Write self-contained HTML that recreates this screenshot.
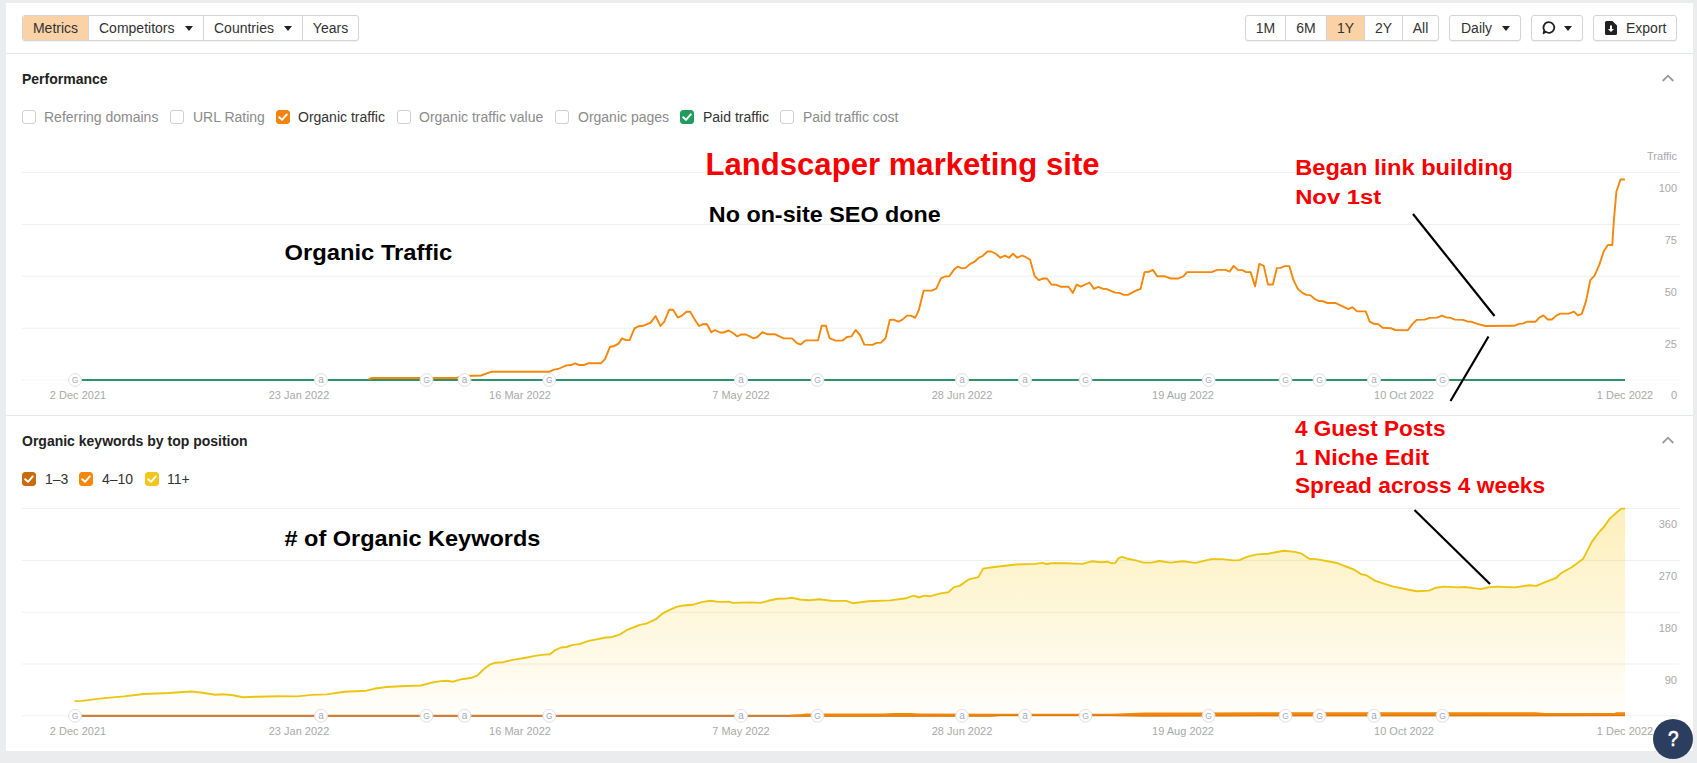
<!DOCTYPE html>
<html><head><meta charset="utf-8"><title>Overview</title>
<style>
*{box-sizing:border-box;margin:0;padding:0}
html,body{width:1697px;height:763px;overflow:hidden;background:#ebecee;font-family:"Liberation Sans",sans-serif;font-size:14px;color:#333}
.card{position:absolute;left:6px;top:3px;width:1687px;height:748px;background:#fff}
.hr{position:absolute;left:6px;width:1687px;height:1px;background:#e6e7ea}
.chart{position:absolute;left:0;top:0}
.gl{stroke:#efeff0;stroke-width:1}
.ax{font-family:"Liberation Sans",sans-serif;font-size:11px;fill:#a9a9a9}
.mk{font-family:"Liberation Sans",sans-serif;font-size:8.5px;fill:#a4abb8;text-anchor:middle}
.ma{font-size:10px}
.bl{stroke:#000;stroke-width:2.2}
.bg{position:absolute;top:15px;height:26px;display:flex;border:1px solid #d3d4d7;border-radius:3px;background:#fff;overflow:hidden;box-shadow:0 1px 1px rgba(0,0,0,.06)}
.bg>div{height:24px;line-height:24px;border-left:1px solid #d3d4d7;text-align:center;white-space:nowrap;color:#333;position:relative}
.bg>div:first-child{border-left:0}
.bg>div.act{background:#fbd2a6}
.car{position:absolute;width:0;height:0;border-left:4px solid transparent;border-right:4px solid transparent;border-top:5px solid #222;top:10px}
.h{position:absolute;font-weight:bold;font-size:14px;color:#222;white-space:nowrap}
.cb{position:absolute;width:14px;height:14px;border:1px solid #cfd0d3;border-radius:3px;background:#fff}
.cb.on svg{position:absolute;left:-1px;top:-1px}
.lb{position:absolute;color:#8b8b8b;white-space:nowrap;line-height:16px}
.lb.lon{color:#333}
.an{font-family:"Liberation Sans",sans-serif;font-weight:bold}
.red{color:#f80000}
.blk{color:#000}
.chev{position:absolute}
.help{position:absolute;left:1653px;top:719px;width:40px;height:40px;border-radius:50%;background:#2c3e5f;color:#fff;font-weight:normal;-webkit-text-stroke:0.7px #fff;font-size:22.5px;line-height:40.500px;text-align:center}
</style></head><body>
<div class="card"></div>
<div class="hr" style="top:53px"></div>
<div class="hr" style="top:415px"></div>

<div class="bg" style="left:22px;width:337px">
<div class="act" style="width:65px">Metrics</div>
<div style="width:115px;text-align:left;padding-left:10px">Competitors<i class="car" style="left:96px"></i></div>
<div style="width:99px;text-align:left;padding-left:10px">Countries<i class="car" style="left:80px"></i></div>
<div style="width:56px">Years</div>
</div>

<div class="bg" style="left:1245px;width:194px">
<div style="width:39px">1M</div><div style="width:41px">6M</div><div class="act" style="width:38px">1Y</div><div style="width:38px">2Y</div><div style="width:36px">All</div>
</div>
<div class="bg" style="left:1449px;width:72px"><div style="width:70px;text-align:left;padding-left:11px">Daily<i class="car" style="left:52px"></i></div></div>
<div class="bg" style="left:1531px;width:52px"><div style="width:50px">
<svg width="16" height="16" viewBox="0 0 16 16" style="position:absolute;left:9px;top:4px"><path d="M8 2.2a5.3 5.3 0 1 1-3.3 9.45L2.6 13.2l.7-2.9A5.3 5.3 0 0 1 8 2.2z" fill="none" stroke="#222" stroke-width="1.8" stroke-linejoin="round"/></svg>
<i class="car" style="left:32px"></i></div></div>
<div class="bg" style="left:1593px;width:84px"><div style="width:82px;text-align:left;padding-left:32px">
<svg width="12" height="14" viewBox="0 0 12 14" style="position:absolute;left:11px;top:5px"><path d="M1.5 0h6L12 4.5V12.5a1.5 1.5 0 0 1-1.5 1.5h-9A1.5 1.5 0 0 1 0 12.500V1.5A1.500 1.500 0 0 1 1.500 0z" fill="#222"/><path d="M5 4.500h2v3.500h2L6 11 3 8h2z" fill="#fff"/></svg>
Export</div></div>

<div class="h" style="left:22px;top:71px">Performance</div>
<svg class="chev" style="left:1662px;top:74px" width="12" height="9" viewBox="0 0 12 9"><path d="M0.700 7 L6 1.700 L11.300 7" fill="none" stroke="#9a9a9a" stroke-width="1.8"/></svg>
<span class="cb" style="left:22px;top:110px"></span><span class="lb" style="left:44px;top:109px">Referring domains</span>
<span class="cb" style="left:170px;top:110px"></span><span class="lb" style="left:193px;top:109px">URL Rating</span>
<span class="cb on" style="left:276px;top:110px;background:#f5820a;border-color:#f5820a"><svg width="14" height="14" viewBox="0 0 14 14"><path d="M3.2 7.2 L6 9.8 L10.8 4.4" fill="none" stroke="#fff" stroke-width="2" stroke-linecap="round" stroke-linejoin="round"/></svg></span><span class="lb lon" style="left:298px;top:109px">Organic traffic</span>
<span class="cb" style="left:397px;top:110px"></span><span class="lb" style="left:419px;top:109px">Organic traffic value</span>
<span class="cb" style="left:555px;top:110px"></span><span class="lb" style="left:578px;top:109px">Organic pages</span>
<span class="cb on" style="left:680px;top:110px;background:#1f9d5c;border-color:#1f9d5c"><svg width="14" height="14" viewBox="0 0 14 14"><path d="M3.2 7.2 L6 9.8 L10.8 4.4" fill="none" stroke="#fff" stroke-width="2" stroke-linecap="round" stroke-linejoin="round"/></svg></span><span class="lb lon" style="left:703px;top:109px">Paid traffic</span>
<span class="cb" style="left:780px;top:110px"></span><span class="lb" style="left:803px;top:109px">Paid traffic cost</span>

<div class="h" style="left:22px;top:433px">Organic keywords by top position</div>
<svg class="chev" style="left:1662px;top:436px" width="12" height="9" viewBox="0 0 12 9"><path d="M0.700 7 L6 1.700 L11.300 7" fill="none" stroke="#9a9a9a" stroke-width="1.8"/></svg>
<span class="cb on" style="left:22px;top:472px;background:#c96a0c;border-color:#c96a0c"><svg width="14" height="14" viewBox="0 0 14 14"><path d="M3.2 7.2 L6 9.8 L10.8 4.4" fill="none" stroke="#fff" stroke-width="2" stroke-linecap="round" stroke-linejoin="round"/></svg></span><span class="lb lon" style="left:45px;top:471px">1–3</span>
<span class="cb on" style="left:79px;top:472px;background:#f5870a;border-color:#f5870a"><svg width="14" height="14" viewBox="0 0 14 14"><path d="M3.2 7.2 L6 9.8 L10.8 4.4" fill="none" stroke="#fff" stroke-width="2" stroke-linecap="round" stroke-linejoin="round"/></svg></span><span class="lb lon" style="left:102px;top:471px">4–10</span>
<span class="cb on" style="left:145px;top:472px;background:#f5c518;border-color:#f5c518"><svg width="14" height="14" viewBox="0 0 14 14"><path d="M3.2 7.2 L6 9.8 L10.8 4.4" fill="none" stroke="#fff" stroke-width="2" stroke-linecap="round" stroke-linejoin="round"/></svg></span><span class="lb lon" style="left:167px;top:471px">11+</span>

<svg class="chart" width="1697" height="763" viewBox="0 0 1697 763">
<defs><linearGradient id="yg" x1="0" y1="508" x2="0" y2="716" gradientUnits="userSpaceOnUse"><stop offset="0" stop-color="#f7cb1c" stop-opacity="0.30"/><stop offset="1" stop-color="#f7cb1c" stop-opacity="0.02"/></linearGradient></defs>
<line x1="22" x2="1679.5" y1="172.6" y2="172.6" class="gl"/><line x1="22" x2="1679.5" y1="224.45" y2="224.45" class="gl"/><line x1="22" x2="1679.5" y1="276.3" y2="276.3" class="gl"/><line x1="22" x2="1679.5" y1="328.2" y2="328.2" class="gl"/><line x1="22" x2="1679.5" y1="380.0" y2="380.0" class="gl"/><text x="1677" y="160" class="ax" text-anchor="end">Traffic</text><text x="1677" y="192" class="ax" text-anchor="end">100</text><text x="1677" y="244" class="ax" text-anchor="end">75</text><text x="1677" y="296" class="ax" text-anchor="end">50</text><text x="1677" y="348" class="ax" text-anchor="end">25</text><text x="1677" y="399" class="ax" text-anchor="end">0</text>
<line x1="75" x2="1625" y1="380" y2="380" stroke="#2d9469" stroke-width="2"/>
<polyline points="368.5,379.3 372.0,378.0 456.0,378.0 466.0,376.0 481.0,375.5 491.0,371.8 549.0,371.8 554.0,369.6 558.0,369.0 566.5,365.4 571.4,365.0 575.0,363.4 579.0,365.0 584.0,365.0 588.8,363.2 601.0,363.2 605.0,359.2 610.0,346.8 613.5,346.3 618.5,343.6 622.0,338.4 626.0,340.0 629.6,340.1 634.5,328.3 638.3,326.3 643.2,325.8 650.6,322.6 655.6,316.1 660.5,326.0 664.3,321.6 669.2,309.7 673.0,309.7 677.9,317.6 681.6,315.9 686.5,311.7 690.2,311.7 694.0,318.4 699.0,326.0 702.6,324.3 706.8,324.0 711.3,332.2 715.0,330.2 720.0,332.5 723.7,332.5 728.6,330.5 732.3,332.5 737.3,336.4 741.0,334.5 746.0,334.5 753.6,338.4 757.3,337.0 762.3,332.2 767.2,334.2 774.7,334.2 783.3,338.2 792.0,338.4 797.0,343.1 800.6,344.6 805.6,340.4 818.0,340.4 821.7,325.8 825.9,325.8 829.6,338.2 835.3,340.6 842.7,340.6 847.0,337.0 851.4,336.4 855.6,330.0 860.0,335.0 864.3,344.6 872.4,344.9 876.6,342.9 881.0,342.6 885.5,338.2 889.8,319.9 893.5,319.6 898.4,321.6 902.1,319.9 907.1,315.6 910.8,315.6 915.2,317.9 918.7,310.4 923.7,290.6 931.8,290.6 936.3,288.7 941.0,278.3 945.0,276.5 949.2,276.3 954.1,269.6 957.8,266.6 962.0,268.4 965.7,267.9 970.2,263.9 973.9,262.2 978.9,257.7 982.6,256.0 987.5,251.5 991.2,251.5 996.2,254.0 1000.4,257.7 1004.9,255.7 1009.0,257.7 1013.0,253.8 1017.2,257.7 1022.2,255.5 1025.9,257.2 1030.1,259.7 1034.6,276.0 1038.8,280.2 1043.2,278.5 1046.9,278.5 1051.4,284.5 1055.6,284.7 1060.5,286.7 1068.5,286.7 1072.9,292.9 1076.6,284.7 1080.8,286.7 1089.5,282.5 1094.0,288.9 1098.2,286.9 1102.6,288.7 1106.3,288.9 1115.0,292.6 1119.5,292.9 1123.7,294.9 1127.9,294.9 1136.0,290.6 1140.5,288.9 1144.6,272.1 1148.8,271.8 1152.9,269.9 1157.2,276.2 1164.8,276.3 1171.0,278.5 1178.4,278.5 1183.3,276.3 1187.0,272.1 1211.8,272.1 1217.2,269.9 1225.4,269.9 1229.6,271.6 1233.6,265.9 1237.8,269.9 1242.2,270.1 1246.4,272.1 1250.6,272.1 1255.1,286.4 1259.3,263.9 1263.8,265.9 1268.0,284.5 1272.9,284.5 1276.9,268.1 1280.6,267.9 1284.8,266.1 1289.3,266.1 1293.5,280.2 1297.7,288.7 1302.1,292.6 1306.3,294.9 1310.3,295.1 1314.5,298.8 1318.7,301.0 1323.2,301.3 1327.4,303.0 1335.5,303.0 1340.0,305.2 1348.4,309.2 1352.4,307.2 1357.1,311.4 1365.7,311.4 1369.7,321.6 1373.9,323.8 1378.1,324.1 1382.6,327.8 1391.2,328.3 1395.4,330.0 1407.8,330.2 1412.3,324.1 1416.7,319.9 1424.7,319.6 1429.6,317.9 1437.0,317.6 1442.0,315.6 1446.2,317.4 1450.6,317.9 1454.9,319.6 1463.0,319.9 1468.0,321.6 1471.7,321.8 1476.6,323.6 1485.3,326.0 1514.2,325.8 1518.9,323.9 1522.7,323.6 1527.7,321.7 1535.6,321.7 1539.3,317.6 1543.4,315.4 1547.8,319.5 1551.9,319.5 1556.6,315.4 1560.4,313.6 1568.6,313.6 1574.0,311.7 1577.7,315.4 1581.8,313.9 1585.9,301.6 1590.3,280.2 1594.4,275.8 1599.1,265.4 1603.8,251.3 1607.9,245.0 1612.3,245.0 1613.9,219.8 1616.4,191.5 1620.5,179.5 1624.9,179.5" fill="none" stroke="#f5870a" stroke-width="1.9" stroke-linejoin="round" stroke-linecap="butt"/>
<circle cx="75" cy="380" r="6.4" fill="#fff" stroke="#dfe0e8" stroke-width="1"/><text x="75" y="383" class="mk">G</text><circle cx="321" cy="380" r="6.4" fill="#fff" stroke="#dfe0e8" stroke-width="1"/><text x="321" y="382.8" class="mk ma">a</text><circle cx="426.5" cy="380" r="6.4" fill="#fff" stroke="#dfe0e8" stroke-width="1"/><text x="426.5" y="383" class="mk">G</text><circle cx="464.5" cy="380" r="6.4" fill="#fff" stroke="#dfe0e8" stroke-width="1"/><text x="464.5" y="382.8" class="mk ma">a</text><circle cx="549.3" cy="380" r="6.4" fill="#fff" stroke="#dfe0e8" stroke-width="1"/><text x="549.3" y="383" class="mk">G</text><circle cx="741" cy="380" r="6.4" fill="#fff" stroke="#dfe0e8" stroke-width="1"/><text x="741" y="382.8" class="mk ma">a</text><circle cx="817.5" cy="380" r="6.4" fill="#fff" stroke="#dfe0e8" stroke-width="1"/><text x="817.5" y="383" class="mk">G</text><circle cx="962" cy="380" r="6.4" fill="#fff" stroke="#dfe0e8" stroke-width="1"/><text x="962" y="382.8" class="mk ma">a</text><circle cx="1025" cy="380" r="6.4" fill="#fff" stroke="#dfe0e8" stroke-width="1"/><text x="1025" y="382.8" class="mk ma">a</text><circle cx="1085.5" cy="380" r="6.4" fill="#fff" stroke="#dfe0e8" stroke-width="1"/><text x="1085.5" y="383" class="mk">G</text><circle cx="1208.6" cy="380" r="6.4" fill="#fff" stroke="#dfe0e8" stroke-width="1"/><text x="1208.6" y="383" class="mk">G</text><circle cx="1285.5" cy="380" r="6.4" fill="#fff" stroke="#dfe0e8" stroke-width="1"/><text x="1285.5" y="383" class="mk">G</text><circle cx="1319.5" cy="380" r="6.4" fill="#fff" stroke="#dfe0e8" stroke-width="1"/><text x="1319.5" y="383" class="mk">G</text><circle cx="1374" cy="380" r="6.4" fill="#fff" stroke="#dfe0e8" stroke-width="1"/><text x="1374" y="382.8" class="mk ma">a</text><circle cx="1442.5" cy="380" r="6.4" fill="#fff" stroke="#dfe0e8" stroke-width="1"/><text x="1442.5" y="383" class="mk">G</text>
<text x="78" y="399" class="ax" text-anchor="middle">2 Dec 2021</text><text x="299" y="399" class="ax" text-anchor="middle">23 Jan 2022</text><text x="520" y="399" class="ax" text-anchor="middle">16 Mar 2022</text><text x="741" y="399" class="ax" text-anchor="middle">7 May 2022</text><text x="962" y="399" class="ax" text-anchor="middle">28 Jun 2022</text><text x="1183" y="399" class="ax" text-anchor="middle">19 Aug 2022</text><text x="1404" y="399" class="ax" text-anchor="middle">10 Oct 2022</text><text x="1625" y="399" class="ax" text-anchor="middle">1 Dec 2022</text>
<line x1="22" x2="1679.5" y1="508.6" y2="508.6" class="gl"/><line x1="22" x2="1679.5" y1="560.4" y2="560.4" class="gl"/><line x1="22" x2="1679.5" y1="612.2" y2="612.2" class="gl"/><line x1="22" x2="1679.5" y1="664.0" y2="664.0" class="gl"/><line x1="22" x2="1679.5" y1="715.8" y2="715.8" class="gl"/><text x="1677" y="528" class="ax" text-anchor="end">360</text><text x="1677" y="580" class="ax" text-anchor="end">270</text><text x="1677" y="632" class="ax" text-anchor="end">180</text><text x="1677" y="684" class="ax" text-anchor="end">90</text>
<polygon points="74.5,701.1 81.9,700.9 101.7,698.4 124.0,696.4 143.8,694.0 168.5,693.0 190.8,691.5 200.7,692.5 215.5,694.7 223.0,694.2 232.9,695.2 242.8,697.2 257.6,696.7 277.4,696.2 297.2,696.4 312.1,694.9 326.9,694.4 344.3,691.7 366.5,690.7 374.0,688.8 386.3,687.0 406.1,686.0 421.0,685.5 430.9,682.8 440.5,681.1 447.0,680.8 452.3,681.8 461.5,679.2 472.0,677.7 477.2,675.6 483.7,669.3 490.3,664.3 495.5,662.7 503.4,662.2 513.9,659.6 524.4,658.0 534.9,655.9 544.1,654.6 550.1,654.3 555.3,650.1 561.1,647.5 566.3,647.0 572.9,644.9 579.4,644.1 588.6,640.9 597.8,639.1 605.7,637.5 610.9,637.3 620.1,634.4 626.6,630.2 634.5,627.0 639.8,624.9 646.3,623.6 655.5,619.4 662.0,613.9 668.6,610.3 676.5,606.9 683.0,605.5 692.2,604.8 702.7,601.9 710.5,600.8 718.4,601.9 728.9,601.6 732.8,602.9 749.9,602.4 760.4,602.9 768.2,600.8 777.4,598.7 786.6,598.5 791.8,597.7 799.7,599.5 808.9,600.3 819.4,599.3 831.2,600.8 846.3,600.9 852.6,603.2 868.3,601.3 890.3,600.4 906.1,598.2 913.9,595.6 918.7,597.5 924.3,595.6 929.7,596.3 940.7,593.4 948.5,592.2 953.9,587.1 959.5,585.9 969.0,579.3 978.4,577.1 983.1,568.6 994.2,567.0 1016.2,564.5 1035.1,563.9 1042.9,562.9 1046.1,564.2 1050.8,563.2 1066.5,563.2 1082.2,563.9 1091.7,561.3 1101.1,562.3 1107.4,561.7 1111.2,563.2 1115.3,562.9 1118.4,558.2 1122.2,556.9 1127.9,558.8 1135.7,560.4 1143.6,562.6 1151.5,562.6 1159.3,561.0 1170.3,562.6 1182.9,561.3 1195.5,562.9 1211.2,559.1 1222.2,559.1 1233.3,560.4 1239.5,560.1 1247.4,556.6 1257.2,554.4 1267.9,553.7 1284.0,550.8 1294.7,551.9 1301.9,553.7 1309.1,558.7 1316.2,559.1 1335.9,562.7 1353.8,569.5 1361.0,574.1 1366.3,575.2 1375.3,580.9 1393.2,586.6 1407.5,589.5 1416.4,591.3 1429.0,590.6 1436.1,587.7 1443.3,586.6 1457.6,587.4 1464.7,587.0 1480.9,589.1 1488.0,587.4 1497.0,586.6 1514.9,587.4 1529.2,585.2 1536.3,585.9 1547.1,581.3 1556.0,578.0 1561.4,573.0 1572.1,567.0 1582.9,559.1 1588.2,549.1 1591.8,541.9 1599.0,532.2 1604.3,526.5 1609.7,518.6 1616.9,512.2 1621.5,508.6 1625.1,508.6 1625.1,716 74.5,716" fill="url(#yg)"/>
<polyline points="74.5,701.1 81.9,700.9 101.7,698.4 124.0,696.4 143.8,694.0 168.5,693.0 190.8,691.5 200.7,692.5 215.5,694.7 223.0,694.2 232.9,695.2 242.8,697.2 257.6,696.7 277.4,696.2 297.2,696.4 312.1,694.9 326.9,694.4 344.3,691.7 366.5,690.7 374.0,688.8 386.3,687.0 406.1,686.0 421.0,685.5 430.9,682.8 440.5,681.1 447.0,680.8 452.3,681.8 461.5,679.2 472.0,677.7 477.2,675.6 483.7,669.3 490.3,664.3 495.5,662.7 503.4,662.2 513.9,659.6 524.4,658.0 534.9,655.9 544.1,654.6 550.1,654.3 555.3,650.1 561.1,647.5 566.3,647.0 572.9,644.9 579.4,644.1 588.6,640.9 597.8,639.1 605.7,637.5 610.9,637.3 620.1,634.4 626.6,630.2 634.5,627.0 639.8,624.9 646.3,623.6 655.5,619.4 662.0,613.9 668.6,610.3 676.5,606.9 683.0,605.5 692.2,604.8 702.7,601.9 710.5,600.8 718.4,601.9 728.9,601.6 732.8,602.9 749.9,602.4 760.4,602.9 768.2,600.8 777.4,598.7 786.6,598.5 791.8,597.7 799.7,599.5 808.9,600.3 819.4,599.3 831.2,600.8 846.3,600.9 852.6,603.2 868.3,601.3 890.3,600.4 906.1,598.2 913.9,595.6 918.7,597.5 924.3,595.6 929.7,596.3 940.7,593.4 948.5,592.2 953.9,587.1 959.5,585.9 969.0,579.3 978.4,577.1 983.1,568.6 994.2,567.0 1016.2,564.5 1035.1,563.9 1042.9,562.9 1046.1,564.2 1050.8,563.2 1066.5,563.2 1082.2,563.9 1091.7,561.3 1101.1,562.3 1107.4,561.7 1111.2,563.2 1115.3,562.9 1118.4,558.2 1122.2,556.9 1127.9,558.8 1135.7,560.4 1143.6,562.6 1151.5,562.6 1159.3,561.0 1170.3,562.6 1182.9,561.3 1195.5,562.9 1211.2,559.1 1222.2,559.1 1233.3,560.4 1239.5,560.1 1247.4,556.6 1257.2,554.4 1267.9,553.7 1284.0,550.8 1294.7,551.9 1301.9,553.7 1309.1,558.7 1316.2,559.1 1335.9,562.7 1353.8,569.5 1361.0,574.1 1366.3,575.2 1375.3,580.9 1393.2,586.6 1407.5,589.5 1416.4,591.3 1429.0,590.6 1436.1,587.7 1443.3,586.6 1457.6,587.4 1464.7,587.0 1480.9,589.1 1488.0,587.4 1497.0,586.6 1514.9,587.4 1529.2,585.2 1536.3,585.9 1547.1,581.3 1556.0,578.0 1561.4,573.0 1572.1,567.0 1582.9,559.1 1588.2,549.1 1591.8,541.9 1599.0,532.2 1604.3,526.5 1609.7,518.6 1616.9,512.2 1621.5,508.6 1625.1,508.6" fill="none" stroke="#ecc512" stroke-width="1.9" stroke-linejoin="round" stroke-linecap="butt"/>
<line x1="75" x2="800" y1="715.85" y2="715.85" stroke="#cf8038" stroke-width="2.3"/>
<polygon points="790,714.7 800,714.2 806,713.6 884,713.6 894,712.9 910,712.9 920,713.6 1000,713.7 1110,713.8 1125,713.2 1145,712.600 1200,712.4 1260,712.2 1535,712.3 1545,713.1 1615,713.1 1616,712.2 1625,712.2 1625,716.1 1260,716.2 1145,716.4 1110,716.1 1000,716.1 990,716.6 800,716.6 790,717" fill="#f3850a"/>
<polyline points="800,716.4 990,716.2 1000,715.700 1110,715.700 1145,716 1260,715.800 1625,715.700" fill="none" stroke="#d2770c" stroke-width="0.9"/>
<circle cx="75" cy="715.8" r="6.4" fill="#fff" stroke="#dfe0e8" stroke-width="1"/><text x="75" y="718.8" class="mk">G</text><circle cx="321" cy="715.8" r="6.4" fill="#fff" stroke="#dfe0e8" stroke-width="1"/><text x="321" y="718.5999999999999" class="mk ma">a</text><circle cx="426.5" cy="715.8" r="6.4" fill="#fff" stroke="#dfe0e8" stroke-width="1"/><text x="426.5" y="718.8" class="mk">G</text><circle cx="464.5" cy="715.8" r="6.4" fill="#fff" stroke="#dfe0e8" stroke-width="1"/><text x="464.5" y="718.5999999999999" class="mk ma">a</text><circle cx="549.3" cy="715.8" r="6.4" fill="#fff" stroke="#dfe0e8" stroke-width="1"/><text x="549.3" y="718.8" class="mk">G</text><circle cx="741" cy="715.8" r="6.4" fill="#fff" stroke="#dfe0e8" stroke-width="1"/><text x="741" y="718.5999999999999" class="mk ma">a</text><circle cx="817.5" cy="715.8" r="6.4" fill="#fff" stroke="#dfe0e8" stroke-width="1"/><text x="817.5" y="718.8" class="mk">G</text><circle cx="962" cy="715.8" r="6.4" fill="#fff" stroke="#dfe0e8" stroke-width="1"/><text x="962" y="718.5999999999999" class="mk ma">a</text><circle cx="1025" cy="715.8" r="6.4" fill="#fff" stroke="#dfe0e8" stroke-width="1"/><text x="1025" y="718.5999999999999" class="mk ma">a</text><circle cx="1085.5" cy="715.8" r="6.4" fill="#fff" stroke="#dfe0e8" stroke-width="1"/><text x="1085.5" y="718.8" class="mk">G</text><circle cx="1208.6" cy="715.8" r="6.4" fill="#fff" stroke="#dfe0e8" stroke-width="1"/><text x="1208.6" y="718.8" class="mk">G</text><circle cx="1285.5" cy="715.8" r="6.4" fill="#fff" stroke="#dfe0e8" stroke-width="1"/><text x="1285.5" y="718.8" class="mk">G</text><circle cx="1319.5" cy="715.8" r="6.4" fill="#fff" stroke="#dfe0e8" stroke-width="1"/><text x="1319.5" y="718.8" class="mk">G</text><circle cx="1374" cy="715.8" r="6.4" fill="#fff" stroke="#dfe0e8" stroke-width="1"/><text x="1374" y="718.5999999999999" class="mk ma">a</text><circle cx="1442.5" cy="715.8" r="6.4" fill="#fff" stroke="#dfe0e8" stroke-width="1"/><text x="1442.5" y="718.8" class="mk">G</text>
<text x="78" y="735" class="ax" text-anchor="middle">2 Dec 2021</text><text x="299" y="735" class="ax" text-anchor="middle">23 Jan 2022</text><text x="520" y="735" class="ax" text-anchor="middle">16 Mar 2022</text><text x="741" y="735" class="ax" text-anchor="middle">7 May 2022</text><text x="962" y="735" class="ax" text-anchor="middle">28 Jun 2022</text><text x="1183" y="735" class="ax" text-anchor="middle">19 Aug 2022</text><text x="1404" y="735" class="ax" text-anchor="middle">10 Oct 2022</text><text x="1625" y="735" class="ax" text-anchor="middle">1 Dec 2022</text>
<line x1="1413" y1="214" x2="1494.5" y2="316" class="bl"/>
<line x1="1488.5" y1="336.5" x2="1450.5" y2="401" class="bl"/>
<line x1="1414.5" y1="510" x2="1490" y2="584" class="bl"/>
<rect x="704" y="150" width="400" height="33" fill="#fff"/><rect x="1295.6" y="156" width="217" height="25" fill="#fff"/><text id="t1" class="an" transform="translate(705.42,174.9) scale(0.9911,1)" font-size="31.4" fill="#f80000">Landscaper marketing site</text><text id="t2" class="an" transform="translate(708.82,221.5) scale(1.0803,1)" font-size="21.6" fill="#000">No on-site SEO done</text><text id="t3" class="an" transform="translate(284.5,259.6) scale(1.1107,1)" font-size="21.4" fill="#000">Organic Traffic</text><text id="t4" class="an" transform="translate(1295.18,174.75) scale(1.115,1)" font-size="21.2" fill="#f80000">Began link building</text><text id="t5" class="an" transform="translate(1295.17,204.0) scale(1.1294,1)" font-size="21.1" fill="#f80000">Nov 1st</text><text id="t6" class="an" transform="translate(1294.9,435.5) scale(1.0654,1)" font-size="21.2" fill="#f80000">4 Guest Posts</text><text id="t7" class="an" transform="translate(1294.69,464.6) scale(1.108,1)" font-size="21.2" fill="#f80000">1 Niche Edit</text><text id="t8" class="an" transform="translate(1294.9,492.7) scale(1.073,1)" font-size="21.2" fill="#f80000">Spread across 4 weeks</text><text id="t9" class="an" transform="translate(284.5,546.4) scale(1.0979,1)" font-size="21.4" fill="#000"># of Organic Keywords</text>
</svg>

<div class="help"><span style="display:inline-block;transform:scaleX(.84)">?</span></div>
</body></html>
